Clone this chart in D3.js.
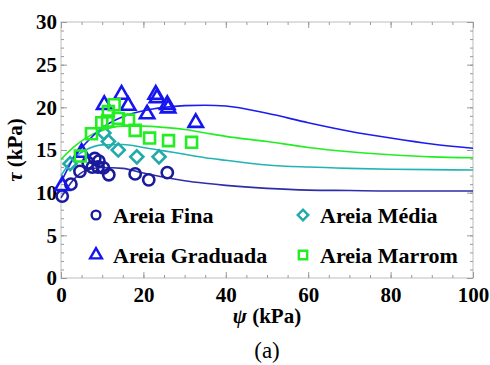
<!DOCTYPE html>
<html>
<head>
<meta charset="utf-8">
<script src="https://cdn.jsdelivr.net/npm/d3@7"></script>
<style>
  body { margin: 0; background: #fff; }
  svg { display: block; }
</style>
</head>
<body>
<script>
// measured points, psi (kPa) / tau (kPa)
var finaPts = [[0.3,9.6],[2.4,11.0],[4.6,12.5],[6.6,13.5],[7.6,13.0],[8.2,14.0],[9.2,13.7],[9.0,13.0],[10.3,12.9],[11.6,12.1],[18.0,12.2],[21.3,11.5],[25.8,12.35]];
var mediaPts = [[2.2,13.4],[10.4,17.0],[11.5,16.0],[13.9,15.0],[18.4,14.2],[23.8,14.2]];
var gradPts = [[0.3,10.8],[5.0,14.7],[10.5,20.3],[14.7,21.5],[16.3,20.2],[20.9,19.2],[23.0,21.5],[23.3,21.1],[25.8,20.3],[26.0,19.9],[32.7,18.2]];
var marromPts = [[4.7,14.3],[7.4,16.9],[9.9,18.2],[11.3,18.4],[11.5,19.5],[12.9,20.3],[13.9,18.7],[16.4,18.5],[18.0,17.3],[21.5,16.4],[26.1,16.1],[31.7,15.9]];

// fitted curves
var curveX   = [0, 3, 6, 10, 15, 20, 25, 30, 35, 40, 50, 60, 70, 80, 90, 100];
var finaFit  = [9.4, 11.5, 12.6, 12.95, 12.85, 12.3, 11.8, 11.4, 11.1, 10.85, 10.5, 10.3, 10.25, 10.2, 10.2, 10.2];
var mediaFit = [12.0, 14.0, 15.0, 15.6, 15.65, 15.3, 14.9, 14.5, 14.1, 13.8, 13.25, 13.0, 12.85, 12.75, 12.7, 12.65];
var gradFit  = [11.2, 14.0, 15.8, 17.6, 18.9, 19.6, 20.0, 20.2, 20.25, 20.15, 19.3, 18.2, 17.2, 16.4, 15.7, 15.2];
var marromFit= [13.9, 15.3, 16.4, 17.3, 17.8, 17.8, 17.65, 17.4, 17.0, 16.6, 16.0, 15.3, 14.8, 14.45, 14.2, 14.1];

var xTicks = [0, 20, 40, 60, 80, 100];
var yTicks = [0, 5, 10, 15, 20, 25, 30];

var W = 490, H = 365;
var svg = d3.select("body").append("svg")
    .attr("width", W)
    .attr("height", H);

var x = d3.scaleLinear().domain([0, 100]).range([61, 473]);
var y = d3.scaleLinear().domain([0, 30]).range([278, 22]);

var serifFont = "'Liberation Serif', 'Times New Roman', serif";

// frame
svg.append("rect")
    .attr("x", x(0)).attr("y", y(30))
    .attr("width", x(100) - x(0)).attr("height", y(0) - y(30))
    .attr("fill", "none")
    .attr("stroke", "#bdbdbd")
    .attr("stroke-width", 1);

function addTicks(axisFn, values, size, tr, labels) {
  var g = svg.append("g")
      .attr("transform", tr)
      .call(axisFn.tickValues(values).tickSize(size).tickSizeOuter(0)
                  .tickFormat(labels ? d3.format("d") : ""));
  g.attr("font-family", null);
  g.select(".domain").remove();
  g.selectAll(".tick line").attr("stroke", "#9a9a9a");
  g.selectAll("text")
      .style("font-family", serifFont)
      .style("font-weight", "bold")
      .style("font-size", "21px")
      .attr("fill", "#000");
  return g;
}

var xMinor = d3.range(0, 101, 5);
var yMinor = d3.range(0, 31, 1);

addTicks(d3.axisBottom(x), xMinor, -3, "translate(0," + y(0) + ")", false);
addTicks(d3.axisTop(x), xMinor, -3, "translate(0," + y(30) + ")", false);
addTicks(d3.axisLeft(y), yMinor, -3, "translate(" + x(0) + ",0)", false);
addTicks(d3.axisRight(y), yMinor, -3, "translate(" + x(100) + ",0)", false);

var gx = addTicks(d3.axisBottom(x), xTicks, -6, "translate(0," + y(0) + ")", true);
gx.selectAll("text").attr("y", 9).attr("dy", "0.71em");
addTicks(d3.axisTop(x), xTicks, -6, "translate(0," + y(30) + ")", false);
var gy = addTicks(d3.axisLeft(y), yTicks, -6, "translate(" + x(0) + ",0)", true);
gy.selectAll("text").attr("x", -4);
addTicks(d3.axisRight(y), yTicks, -6, "translate(" + x(100) + ",0)", false);

// curves
var line = d3.line()
    .x(function(d) { return x(d[0]); })
    .y(function(d) { return y(d[1]); })
    .curve(d3.curveMonotoneX);

var curves = [
  { v: finaFit,   c: "#2e2ea8" },
  { v: mediaFit,  c: "#22b4b4" },
  { v: marromFit, c: "#22ee22" },
  { v: gradFit,   c: "#1c1cf0" }
];
curves.forEach(function(s) {
  svg.append("path")
      .datum(curveX.map(function(px, i) { return [px, s.v[i]]; }))
      .attr("d", line)
      .attr("fill", "none")
      .attr("stroke", s.c)
      .attr("stroke-width", 1.6);
});

// markers
var series = [
  { pts: finaPts,   c: "#1a1a9c", type: d3.symbolCircle,   size: 100, rot: 0,  name: "Areia Fina" },
  { pts: mediaPts,  c: "#22aaaa", type: d3.symbolSquare,   size: 85,  rot: 45, name: "Areia Média" },
  { pts: gradPts,   c: "#1515ee", type: d3.symbolTriangle, size: 90,  rot: 0,  name: "Areia Graduada" },
  { pts: marromPts, c: "#22ee22", type: d3.symbolSquare,   size: 120, rot: 0,  name: "Areia Marrom" }
];

series.forEach(function(s) {
  svg.append("g").selectAll("path")
      .data(s.pts)
      .join("path")
      .attr("d", d3.symbol().type(s.type).size(s.size))
      .attr("transform", function(d) {
        return "translate(" + x(d[0]) + "," + y(d[1]) + ") rotate(" + s.rot + ")";
      })
      .attr("fill", "none")
      .attr("stroke", s.c)
      .attr("stroke-width", 2.6);
});

// legend
var legendPos = [[96, 215], [303, 215], [96, 255], [303, 255]];
var legendSizes = [60, 55, 60, 70];
series.forEach(function(s, i) {
  var p = legendPos[i];
  svg.append("path")
      .attr("d", d3.symbol().type(s.type).size(legendSizes[i]))
      .attr("transform", "translate(" + p[0] + "," + p[1] + ") rotate(" + s.rot + ")")
      .attr("fill", "none")
      .attr("stroke", s.c)
      .attr("stroke-width", 2.4);
  svg.append("text")
      .attr("x", p[0] + 17)
      .attr("y", p[1] + 8)
      .style("font-family", serifFont)
      .style("font-weight", "bold")
      .style("font-size", "22px")
      .text(s.name);
});

// axis titles
svg.append("text")
    .attr("transform", "translate(22," + ((y(0) + y(30)) / 2) + ") rotate(-90)")
    .attr("text-anchor", "middle")
    .style("font-family", serifFont)
    .style("font-weight", "bold")
    .style("font-size", "21px")
    .html("<tspan font-style='italic'>τ</tspan> (kPa)");

svg.append("text")
    .attr("x", (x(0) + x(100)) / 2)
    .attr("y", 323)
    .attr("text-anchor", "middle")
    .style("font-family", serifFont)
    .style("font-weight", "bold")
    .style("font-size", "21px")
    .html("<tspan font-style='italic'>ψ</tspan> (kPa)");

svg.append("text")
    .attr("x", (x(0) + x(100)) / 2)
    .attr("y", 358)
    .attr("text-anchor", "middle")
    .style("font-family", serifFont)
    .style("font-size", "23px")
    .text("(a)");
</script>
</body>
</html>
